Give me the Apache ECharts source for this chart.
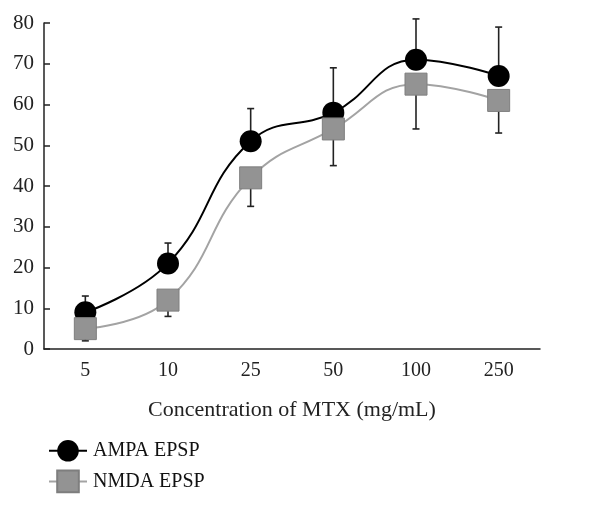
<!DOCTYPE html>
<html>
<head>
<meta charset="utf-8">
<script src="https://cdn.jsdelivr.net/npm/echarts@6/dist/echarts.min.js"></script>
<style>html,body{margin:0;padding:0;background:#fff;}#c{width:607px;height:507px;}</style>
</head>
<body>
<div id="c"></div>
<script>
const categories = ['5', '10', '25', '50', '100', '250'];
const ampaValues = [9, 21, 51, 58, 71, 67];
const ampaErrTop = [13, 26, 59, 69, 81, 79];
const nmdaValues = [5, 12, 42, 54, 65, 61];
const nmdaErrBottom = [2, 8, 35, 45, 54, 53];
const yTicks = [0, 10, 20, 30, 40, 50, 60, 70, 80];

const FONT = '"Liberation Serif", "Times New Roman", serif';

function errorSeries(name, centers, ends) {
  return {
    type: 'custom',
    name: name,
    z: 1,
    silent: true,
    data: centers.map((v, i) => [i, v, ends[i]]),
    renderItem: function (params, api) {
      const p0 = api.coord([api.value(0), api.value(1)]);
      const p1 = api.coord([api.value(0), api.value(2)]);
      const hw = 3.5;
      const st = { stroke: '#222', lineWidth: 1.6 };
      return {
        type: 'group',
        children: [
          { type: 'line', shape: { x1: p0[0], y1: p0[1], x2: p1[0], y2: p1[1] }, style: st },
          { type: 'line', shape: { x1: p1[0] - hw, y1: p1[1], x2: p1[0] + hw, y2: p1[1] }, style: st }
        ]
      };
    }
  };
}

const chart = echarts.init(document.getElementById('c'), null, { renderer: 'canvas' });
chart.setOption({
  animation: false,
  backgroundColor: '#fff',
  grid: { left: 44, right: 67, top: 23, bottom: 158, containLabel: false },
  legend: {
    orient: 'vertical',
    left: 43,
    top: 435,
    itemWidth: 38,
    itemHeight: 27,
    itemGap: 8,
    data: ['AMPA EPSP', 'NMDA EPSP'],
    textStyle: { fontFamily: FONT, fontSize: 20, color: '#111', padding: [0, 0, 0, 1] }
  },
  xAxis: {
    type: 'category',
    data: categories,
    boundaryGap: true,
    axisLine: { lineStyle: { color: '#222', width: 1.5 } },
    axisTick: { inside: true, alignWithLabel: true, length: 4, lineStyle: { color: '#222', width: 1.5 } },
    axisLabel: { fontFamily: FONT, fontSize: 20, color: '#222', margin: 12 },
    name: 'Concentration of MTX (mg/mL)',
    nameLocation: 'middle',
    nameGap: 50,
    nameTextStyle: { fontFamily: FONT, fontSize: 22, color: '#222' }
  },
  yAxis: {
    type: 'value',
    min: yTicks[0],
    max: yTicks[yTicks.length - 1],
    interval: 10,
    splitLine: { show: false },
    axisLine: { show: true, lineStyle: { color: '#222', width: 1.5 } },
    axisTick: { show: true, inside: true, length: 6, lineStyle: { color: '#222', width: 1.5 } },
    axisLabel: { fontFamily: FONT, fontSize: 21, color: '#222', margin: 10 }
  },
  series: [
    errorSeries('ampaErr', ampaValues, ampaErrTop),
    errorSeries('nmdaErr', nmdaValues, nmdaErrBottom),
    {
      name: 'AMPA EPSP',
      type: 'line',
      z: 2,
      data: ampaValues,
      smooth: 0.45,
      symbol: 'circle',
      symbolSize: 22,
      lineStyle: { color: '#000', width: 2 },
      itemStyle: { color: '#000', borderColor: '#000', borderWidth: 0 }
    },
    {
      name: 'NMDA EPSP',
      type: 'line',
      z: 3,
      data: nmdaValues,
      smooth: 0.45,
      symbol: 'rect',
      symbolSize: 22,
      lineStyle: { color: '#a3a3a3', width: 2 },
      itemStyle: { color: '#939393', borderColor: '#7e7e7e', borderWidth: 1 }
    }
  ]
});
</script>
</body>
</html>
